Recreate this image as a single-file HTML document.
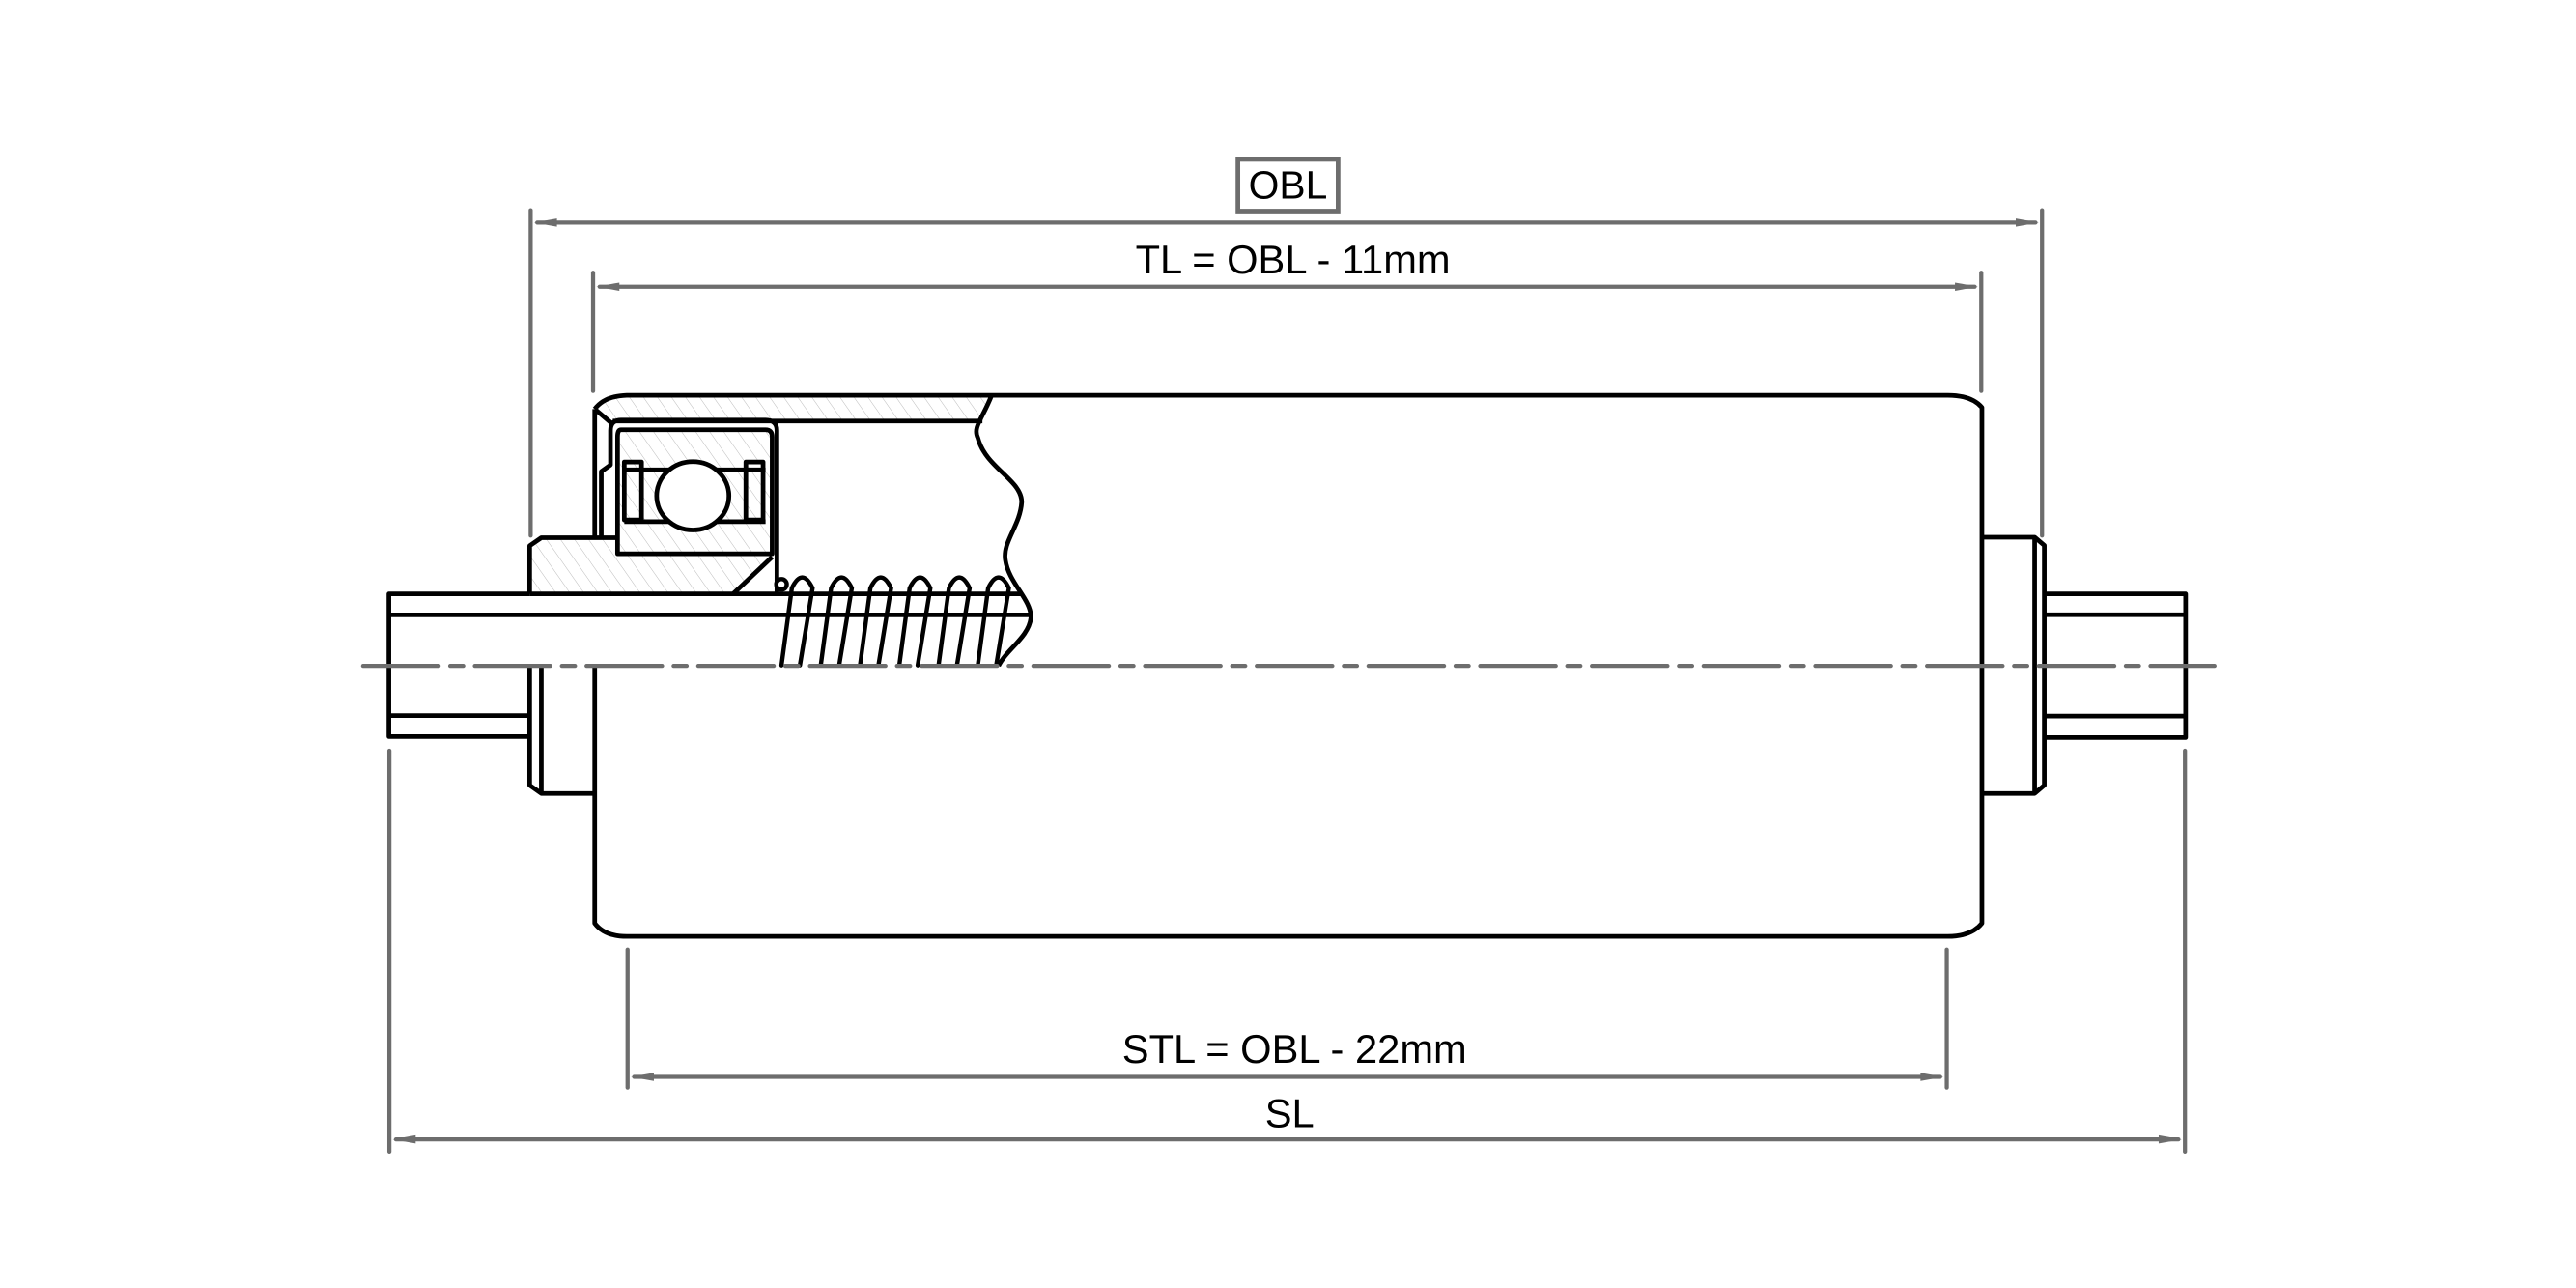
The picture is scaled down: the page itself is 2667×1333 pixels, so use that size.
<!DOCTYPE html>
<html><head><meta charset="utf-8"><style>
html,body{margin:0;padding:0;background:#fff;}
svg{display:block;}
text{font-family:"Liberation Sans",Arial,sans-serif;fill:#000;}
</style></head><body>
<svg width="2667" height="1333" viewBox="0 0 1568 784" preserveAspectRatio="none" xmlns="http://www.w3.org/2000/svg">
<defs>
<pattern id="h" width="7" height="7" patternUnits="userSpaceOnUse" patternTransform="rotate(-35)">
<line x1="0" y1="0" x2="0" y2="7" stroke="#bbb" stroke-width="0.6"/>
</pattern>
</defs>
<rect width="1568" height="784" fill="#fff"/>

<!-- dimension lines -->
<g stroke="#6d6d6d" stroke-width="2.5" stroke-linecap="round" fill="none">
<line x1="323" y1="128" x2="323" y2="326"/>
<line x1="1243" y1="128" x2="1243" y2="326"/>
<line x1="327" y1="135.5" x2="1239" y2="135.5"/>
<line x1="361" y1="166" x2="361" y2="238"/>
<line x1="1206" y1="166" x2="1206" y2="238"/>
<line x1="365" y1="174.5" x2="1202" y2="174.5"/>
<line x1="382" y1="578" x2="382" y2="662"/>
<line x1="1185" y1="578" x2="1185" y2="662"/>
<line x1="386" y1="655.5" x2="1181" y2="655.5"/>
<line x1="237" y1="457" x2="237" y2="701"/>
<line x1="1330" y1="457" x2="1330" y2="701"/>
<line x1="241" y1="693.5" x2="1326" y2="693.5"/>
<rect x="753.5" y="97" width="61" height="31.5" stroke-width="2.8"/>
</g>
<g fill="#6d6d6d">
<polygon points="325,135.5 339,133 339,138"/>
<polygon points="1241,135.5 1227,133 1227,138"/>
<polygon points="363,174.5 377,172 377,177"/>
<polygon points="1204,174.5 1190,172 1190,177"/>
<polygon points="384,655.5 398,653 398,658"/>
<polygon points="1183,655.5 1169,653 1169,658"/>
<polygon points="239,693.5 253,691 253,696"/>
<polygon points="1328,693.5 1314,691 1314,696"/>
</g>
<text x="784" y="121" font-size="24" text-anchor="middle">OBL</text>
<text x="787" y="166.5" font-size="24.5" text-anchor="middle">TL = OBL - 11mm</text>
<text x="788" y="647" font-size="24.5" text-anchor="middle">STL = OBL - 22mm</text>
<text x="785" y="686" font-size="24.5" text-anchor="middle">SL</text>

<!-- hatched regions -->
<path d="M362,249 Q368,241 381,240.6 L604,240.6 L598,256.3 L373,256.3 Z" fill="url(#h)"/>
<path d="M322.4,332.2 L329.5,327.3 L375.9,327.3 L375.9,337.1 L470,337.1 L446.2,361.5 L322.4,361.5 Z" fill="url(#h)"/>
<path d="M376,262 L470,262 L470,337 L376,337 Z" fill="url(#h)"/>

<g stroke="#000" stroke-width="2.8" fill="none" stroke-linejoin="round">
<!-- tube -->
<path d="M362,249 Q368,241 381.5,240.6 L1185.6,240.6 Q1200,240.6 1206.4,248 L1206.4,562 Q1200,570 1185.6,570 L381.5,570 Q368,570 362,562 L362,405"/>
<path d="M362,249 L373.3,258.5"/>
<line x1="373" y1="256.3" x2="598" y2="256.3"/>
<path d="M603.6,240.6 C598,255 592,260 595.2,266.5 C600,285 622,292 621.9,305.7 C621,320 610,330 612,341 C614,355 628,365 627.5,376.2 C626,388 613,395 607.8,405.3"/>
<!-- left housing -->
<path d="M362,249 L362,327.3"/>
<path d="M371.6,262 Q371.6,255.7 378,255.7 L466,255.7 Q472.9,255.7 472.9,262 L472.9,360.6"/>
<path d="M371.6,262 L371.6,283 L366,287 L366,327"/>
<path d="M378,261.6 Q375.9,261.6 375.9,266 L375.9,337.1 L470,337.1 L470,266 Q470,261.6 466,261.6 Z"/>
<line x1="380" y1="286" x2="466" y2="286"/>
<line x1="380" y1="317.5" x2="466" y2="317.5"/>
<rect x="380" y="281.2" width="10.5" height="35.3"/>
<rect x="454" y="281.2" width="10.5" height="35.3"/>
<ellipse cx="421.7" cy="301.8" rx="22" ry="20.8" fill="#fff"/>
<!-- hub -->
<path d="M322.4,361.5 L322.4,332.2 L329.5,327.3 L375.9,327.3"/>
<line x1="470" y1="339" x2="446.2" y2="361.5"/>
<!-- left shaft -->
<path d="M322.4,361.5 L236.7,361.5 L236.7,448.4 L322.4,448.4"/>
<line x1="236.7" y1="374.3" x2="627" y2="374.3"/>
<line x1="322.4" y1="361.5" x2="622" y2="361.5"/>
<line x1="236.7" y1="435.6" x2="322.4" y2="435.6"/>
<!-- left flange -->
<path d="M322.4,405 L322.4,478 L329.5,483 L362,483"/>
<line x1="329.5" y1="405" x2="329.5" y2="483"/>
<!-- right flange -->
<path d="M1206.4,327 L1238.5,327 L1244.4,332 L1244.4,478 L1238.5,483 L1206.4,483"/>
<line x1="1238.5" y1="327" x2="1238.5" y2="483"/>
<!-- right shaft -->
<path d="M1244.4,361.5 L1330.4,361.5 L1330.4,449 L1244.4,449"/>
<line x1="1244.4" y1="374.2" x2="1330.4" y2="374.2"/>
<line x1="1244.4" y1="435.9" x2="1330.4" y2="435.9"/>
</g>
<!-- spring -->
<g stroke="#000" stroke-width="2.6" fill="none" stroke-linecap="round">
<circle cx="475.7" cy="355.7" r="3.2" fill="#fff"/>
<path d="M475.7,405 L482,358 Q488.3,345 494.6,358 L486.9,405"/>
<path d="M499.6,405 L505.9,358 Q512.2,345 518.5,358 L510.8,405"/>
<path d="M523.5,405 L529.8,358 Q536.1,345 542.4,358 L534.7,405"/>
<path d="M547.4,405 L553.7,358 Q560,345 566.3,358 L558.6,405"/>
<path d="M571.3,405 L577.6,358 Q583.9,345 590.2,358 L582.5,405"/>
<path d="M595.2,405 L601.5,358 Q607.8,345 614.1,358 L606.4,405"/>
</g>
<!-- centerline -->
<line x1="221" y1="405.3" x2="1348" y2="405.3" stroke="#6d6d6d" stroke-width="2.5" stroke-dasharray="46,7,8,7" stroke-linecap="round"/>
</svg>
</body></html>
